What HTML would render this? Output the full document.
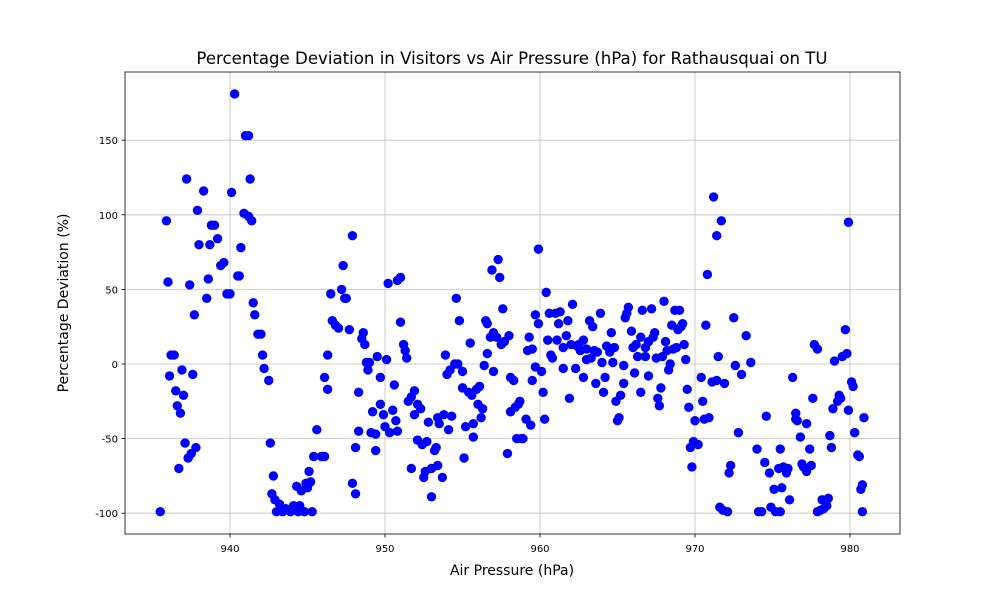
<!DOCTYPE html>
<html><head><meta charset="utf-8"><style>
body{margin:0;background:#fff;font-family:"Liberation Sans","DejaVu Sans",sans-serif}
svg text{font-family:"DejaVu Sans","Liberation Sans",sans-serif;fill:#000}
</style></head><body>
<svg id="chart" width="1000" height="600" viewBox="0 0 1000 600" xmlns="http://www.w3.org/2000/svg">
<rect width="1000" height="600" fill="#fff"/>
<text x="512" y="64" font-size="16.6" text-anchor="middle">Percentage Deviation in Visitors vs Air Pressure (hPa) for Rathausquai on TU</text>
<text x="512" y="575" font-size="14" text-anchor="middle">Air Pressure (hPa)</text>
<text x="68" y="303" font-size="14" text-anchor="middle" transform="rotate(-90 68 303)">Percentage Deviation (%)</text>
<g id="grid"></g><g id="pts"></g><g id="axes"></g>
</svg>
<script>
const pressure=[935.5,935.9,936.0,936.1,936.2,936.4,936.5,936.6,936.7,936.8,936.9,937.0,937.1,937.2,937.3,937.4,937.5,937.6,937.7,937.8,937.9,938.0,938.3,938.5,938.6,938.7,938.8,939.0,939.2,939.4,939.6,939.8,940.0,940.1,940.3,940.5,940.6,940.7,940.9,941.0,941.2,941.2,941.3,941.4,941.5,941.6,941.8,942.0,942.1,942.2,942.5,942.6,942.7,942.8,942.9,943.0,943.2,943.4,943.6,943.9,944.1,944.3,944.4,944.5,944.6,944.8,944.9,945.0,945.1,945.2,945.3,945.4,945.6,945.9,946.1,946.1,946.3,946.3,946.5,946.6,946.8,947.0,947.2,947.3,947.4,947.5,947.7,947.9,947.9,948.1,948.1,948.3,948.3,948.5,948.6,948.7,948.8,948.9,949.0,949.1,949.2,949.4,949.4,949.5,949.7,949.7,949.9,950.0,950.1,950.2,950.3,950.5,950.6,950.7,950.8,950.8,951.0,951.0,951.2,951.3,951.4,951.5,951.7,951.7,951.9,951.9,952.1,952.1,952.3,952.4,952.5,952.6,952.7,952.8,953.0,953.0,953.2,953.3,953.4,953.4,953.5,953.7,953.8,953.9,954.0,954.1,954.2,954.3,954.5,954.6,954.7,954.8,955.0,955.0,955.1,955.2,955.4,955.5,955.6,955.7,955.7,955.9,956.0,956.1,956.2,956.3,956.4,956.5,956.6,956.6,956.8,956.9,957.0,957.0,957.2,957.3,957.4,957.5,957.6,957.7,957.9,958.0,958.1,958.1,958.3,958.4,958.5,958.6,958.7,958.8,958.9,959.1,959.2,959.3,959.4,959.5,959.5,959.7,959.7,959.9,959.9,960.1,960.2,960.3,960.4,960.5,960.6,960.7,960.8,961.0,961.1,961.2,961.3,961.5,961.5,961.7,961.8,961.9,962.0,962.1,962.3,962.4,962.5,962.6,962.8,962.8,963.0,963.0,963.2,963.3,963.4,963.5,963.6,963.7,963.9,964.0,964.1,964.2,964.3,964.5,964.6,964.7,964.8,964.9,965.0,965.1,965.2,965.4,965.4,965.5,965.6,965.7,965.9,966.0,966.1,966.2,966.3,966.5,966.5,966.6,966.8,966.8,967.0,967.0,967.2,967.3,967.4,967.5,967.6,967.7,967.8,967.9,968.0,968.1,968.2,968.3,968.4,968.5,968.6,968.7,968.8,968.9,969.0,969.1,969.2,969.3,969.4,969.5,969.6,969.7,969.8,969.9,970.0,970.2,970.4,970.5,970.6,970.7,970.8,970.9,971.1,971.2,971.4,971.4,971.5,971.6,971.7,971.8,971.9,972.1,972.2,972.3,972.5,972.6,972.8,973.0,973.3,973.6,974.0,974.1,974.3,974.5,974.6,974.8,974.9,975.1,975.2,975.4,975.5,975.5,975.6,975.7,975.9,976.0,976.1,976.3,976.5,976.5,976.6,976.8,976.9,977.0,977.2,977.2,977.4,977.5,977.6,977.7,977.9,977.9,978.1,978.2,978.3,978.5,978.6,978.7,978.8,978.9,979.0,979.2,979.3,979.4,979.5,979.7,979.8,979.9,979.9,980.1,980.2,980.3,980.5,980.6,980.7,980.8,980.8,980.9];
const deviation=[-99,96,55,-8,6,6,-18,-28,-70,-33,-4,-21,-53,124,-63,53,-60,-7,33,-56,103,80,116,44,57,80,93,93,84,66,68,47,47,115,181,59,59,78,101,153,153,99,124,96,41,33,20,20,6,-3,-11,-53,-87,-75,-91,-99,-94,-99,-97,-99,-95,-82,-99,-95,-85,-99,-80,-83,-72,-79,-99,-62,-44,-62,-62,-9,-17,6,47,29,26,24,50,66,44,44,23,86,-80,-87,-56,-19,-45,17,21,13,1,-4,1,-46,-32,-58,-47,5,-27,-9,-34,-42,3,54,-46,-31,-14,-38,-45,56,58,28,13,9,4,-25,-70,-22,-34,-18,-27,-51,-30,-54,-76,-72,-52,-39,-70,-89,-58,-56,-36,-68,-40,-76,-34,6,-7,-44,-4,-35,0,44,0,29,-5,-16,-63,-42,-19,14,-21,-40,-49,-17,-27,-15,-36,-30,-1,29,7,27,18,63,-5,21,18,70,58,13,37,15,-60,19,-9,-32,-11,-29,-50,-27,-25,-50,-50,-37,9,18,-41,-11,10,-2,33,77,27,-5,-19,-37,48,16,34,6,4,34,16,27,35,-3,11,19,29,-23,13,40,-3,12,13,9,-9,16,3,10,29,4,25,9,-13,8,34,1,-19,-9,12,8,21,1,11,-25,-38,-36,-21,-13,-1,31,34,38,22,11,-6,13,5,-19,18,36,5,11,-8,15,37,18,21,4,-23,-28,-16,5,42,15,9,-4,0,26,10,36,11,23,36,25,27,13,3,-17,-29,-56,-69,-52,-38,-54,-9,-25,-37,26,60,-36,-12,112,-11,86,5,-96,96,-98,-13,-99,-73,-68,31,-1,-46,-7,19,1,-57,-99,-99,-66,-35,-73,-96,-84,-99,-70,-99,-57,-83,-69,-73,-70,-91,-9,-37,-33,-38,-49,-67,-69,-40,-72,-57,-68,-23,13,10,-99,-98,-91,-97,-95,-90,-48,-56,-30,2,-25,-21,-23,5,23,7,-31,95,-12,-15,-46,-61,-62,-84,-81,-99,-36];
const xTicks=[940,950,960,970,980];
const yTicks=[-100,-50,0,50,100,150];
const L=125,R=900,T=72,B=534;
function xs(v){return 230+(v-940)*15.5;}
function ys(v){return 364-v*1.492;}
const NS="http://www.w3.org/2000/svg";
function mk(t,a,p){const e=document.createElementNS(NS,t);for(const k in a)e.setAttribute(k,a[k]);p.appendChild(e);return e;}
const grid=document.getElementById('grid'),axes=document.getElementById('axes'),pts=document.getElementById('pts');
xTicks.forEach(v=>{const x=xs(v);
 const g=mk('line',{x1:x,x2:x,y1:T,y2:B,stroke:'#c0c0c0','stroke-width':0.8},grid);
 
 
 mk('line',{x1:x,x2:x,y1:B,y2:B+3.5,stroke:'#000','stroke-width':0.8},axes);
 const t=mk('text',{x:x,y:B+18,'font-size':10,'text-anchor':'middle'},axes);t.textContent=v;
 
 
});
yTicks.forEach(v=>{const y=ys(v);
 const g=mk('line',{x1:L,x2:R,y1:y,y2:y,stroke:'#c0c0c0','stroke-width':0.8},grid);
 
 
 mk('line',{x1:L-3.5,x2:L,y1:y,y2:y,stroke:'#000','stroke-width':0.8},axes);
 const t=mk('text',{x:L-7,y:y+4,'font-size':10,'text-anchor':'end'},axes);t.textContent=v;
 
 
});
const fr=mk('rect',{x:L,y:T,width:R-L,height:B-T,fill:'none',stroke:'#000','stroke-width':0.8},axes);


pressure.forEach((p,i)=>{
 const c=mk('circle',{cx:xs(p),cy:ys(deviation[i]),r:4.7,fill:'#0000ff'},pts);
 
 
});
</script>
</body></html>
